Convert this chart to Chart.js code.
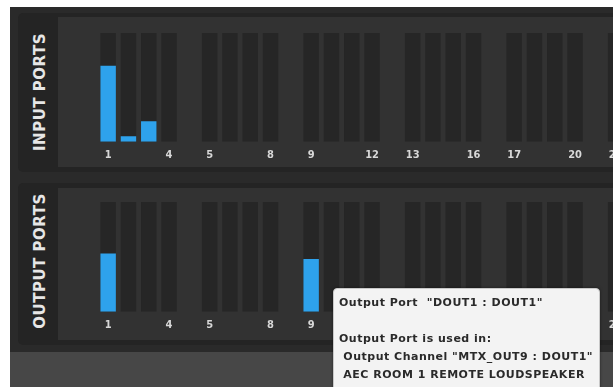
<!DOCTYPE html>
<html>
<head>
<meta charset="utf-8">
<script src="https://cdn.jsdelivr.net/npm/chart.js@4"></script>
<style>
  body { margin: 0; background: #fff; width: 613px; height: 387px; overflow: hidden; position: relative; }
  .frame { position: absolute; left: 10px; top: 7px; width: 603px; height: 380px; background: #2a2a2a; }
  .panel { position: absolute; left: 18px; width: 600px; background: #242424; border-radius: 5px; }
  .inner { position: absolute; left: 58px; width: 560px; background: #323232; overflow: hidden; }
  .side { position: absolute; left: 40px; transform: translate(-50%, -50%) rotate(-90deg);
          font: bold 15px 'DejaVu Sans', sans-serif; letter-spacing: 0.5px; color: #e6e6e6; white-space: nowrap; }
  .wrap { position: absolute; left: 0; top: 0; width: 649px; }
  .footer { position: absolute; left: 10px; top: 352px; width: 603px; height: 35px; background: #474747; }
  .tip { position: absolute; left: 333px; top: 288px; width: 255px; height: 110px; padding: 5px 5px;
         background: #f3f3f3; border: 1px solid #c8c8c8; border-radius: 4px; box-shadow: 0 0 3px rgba(0,0,0,0.5);
         font: bold 11px 'DejaVu Sans', sans-serif; letter-spacing: 0.5px; color: #2a2a2a; line-height: 18px; white-space: pre; }
</style>
</head>
<body>
<div class="frame"></div>
<div class="panel" style="top:13px;height:159px"></div>
<div class="inner" style="top:17px;height:150px"><div class="wrap" style="height:159px"><canvas id="inputChart"></canvas></div></div>
<div class="side" style="top:92px">INPUT PORTS</div>
<div class="panel" style="top:183px;height:162px"></div>
<div class="inner" style="top:188px;height:152px"><div class="wrap" style="height:161px"><canvas id="outputChart"></canvas></div></div>
<div class="side" style="top:261px">OUTPUT PORTS</div>
<div class="footer"></div>
<div class="tip">Output Port  "DOUT1 : DOUT1"

Output Port is used in:
 Output Channel "MTX_OUT9 : DOUT1"
 AEC ROOM 1 REMOTE LOUDSPEAKER</div>
<script>
// channels 1..24, shown in groups of 4
const channels = ['1','2','3','4','5','6','7','8','9','10','11','12','13','14','15','16','17','18','19','20','21','22','23','24'];
const shownTicks = ['1','4','5','8','9','12','13','16','17','20','21','24'];
const inputLevels  = [0.70, 0.05, 0.19, 0, 0, 0, 0, 0, 0, 0, 0, 0, 0, 0, 0, 0, 0, 0, 0, 0, 0, 0, 0, 0];
const outputLevels = [0.53, 0, 0, 0, 0, 0, 0, 0, 0.48, 0, 0, 0, 0, 0, 0, 0, 0, 0, 0, 0, 0, 0, 0, 0];

// insert an empty slot after every group of 4
function withGaps(arr, gapValue) {
    const out = [];
    arr.forEach((v, i) => {
        out.push(v);
        if (i % 4 === 3) out.push(gapValue);
    });
    return out;
}
const slotLabels = withGaps(channels, null).map((c, i) => c === null ? 'gap' + i : c);

function makeMeter(id, levels, pad) {
    const ctx = document.getElementById(id).getContext('2d');
    return new Chart(ctx, {
        type: 'bar',
        data: {
            labels: slotLabels,
            datasets: [{
                label: 'level',
                data: withGaps(levels, null),
                backgroundColor: '#2ea2ec',
                borderWidth: 0,
                grouped: false,
                order: 0,
                barPercentage: 0.76,
                categoryPercentage: 1
            }, {
                label: 'track',
                data: withGaps(levels.map(() => 1), null),
                backgroundColor: '#262626',
                borderWidth: 0,
                grouped: false,
                order: 1,
                barPercentage: 0.76,
                categoryPercentage: 1
            }]
        },
        options: {
            responsive: true,
            maintainAspectRatio: false,
            animation: false,
            layout: { padding: { left: 40, right: 0, top: pad.top, bottom: pad.bottom } },
            plugins: { legend: { display: false }, tooltip: { enabled: false } },
            scales: {
                x: {
                    grid: { display: false, drawTicks: false },
                    border: { display: false },
                    ticks: {
                        autoSkip: false,
                        maxRotation: 0,
                        padding: 7,
                        color: '#d8d8d8',
                        font: { family: "'DejaVu Sans Condensed', 'DejaVu Sans', sans-serif", size: 11, weight: 'bold' },
                        callback: function(value) {
                            const l = this.getLabelForValue(value);
                            return shownTicks.includes(l) ? l : '';
                        }
                    }
                },
                y: { display: false, min: 0, max: 1 }
            }
        }
    });
}

makeMeter('inputChart', inputLevels, { top: 16, bottom: 7 });
makeMeter('outputChart', outputLevels, { top: 14, bottom: 10 });
</script>
</body>
</html>
